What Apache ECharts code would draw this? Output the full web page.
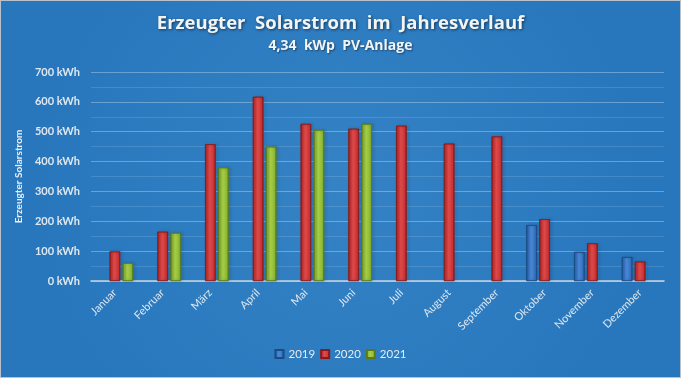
<!DOCTYPE html>
<html>
<head>
<meta charset="utf-8">
<script src="https://cdn.jsdelivr.net/npm/echarts@6/dist/echarts.min.js"></script>
<style>
html,body{margin:0;padding:0;background:#2a7abf;}
#chart{width:679px;height:376px;border:1px solid #b9c2cc;}
</style>
</head>
<body>
<div id="chart"></div>
<script>
const months = ['Januar','Februar','März','April','Mai','Juni','Juli','August','September','Oktober','November','Dezember'];
const seriesNames = ['2019','2020','2021'];
const v2019 = [null,null,null,null,null,null,null,null,null,187,97,80];
const v2020 = [99,165,458,617,526,510,520,460,484,207,126,65];
const v2021 = [60,161,380,450,506,526,null,null,null,null,null,null];
const yTicks = [0,100,200,300,400,500,600,700];

function grad(dark, mid, light){
  return {type:'linear',x:0,y:0,x2:1,y2:0,colorStops:[
    {offset:0,color:dark},{offset:0.15,color:mid},{offset:0.45,color:light},{offset:0.85,color:mid},{offset:1,color:dark}]};
}
const styles = [
  {c:grad('#1f4f8f','#3470bd','#4a88d6'), b:'#1b4a85', leg:'#3a74c2'},
  {c:grad('#8f1c1c','#c93232','#df4a4a'), b:'#8a1a1a', leg:'#cf3636'},
  {c:grad('#5d7f1c','#8cb532','#a6cf48'), b:'#5a7a1a', leg:'#96bf38'}
];
const data = [v2019, v2020, v2021];

const chart = echarts.init(document.getElementById('chart'), null, {renderer:'canvas'});
const series = data.map((d,i)=>({
  name: seriesNames[i],
  type:'bar',
  data:d,
  barWidth:10.5,
  barGap:'24%',
  itemStyle:{color:styles[i].c, borderColor:styles[i].b, borderWidth:0.6,
    shadowColor:'rgba(0,0,0,0.35)', shadowBlur:3, shadowOffsetX:1.5, shadowOffsetY:0}
}));

chart.setOption({
  backgroundColor:{type:'radial',x:0.5,y:0.5,r:0.8,colorStops:[{offset:0,color:'#3583c5'},{offset:1,color:'#2877bd'}]},
  color: styles.map(s=>s.leg),
  title:{
    text:'Erzeugter  Solarstrom  im  Jahresverlauf',
    subtext:'4,34  kWp  PV-Anlage',
    left:'center', top:8, itemGap:6,
    textStyle:{color:'#f2f4f6', fontSize:18.5, fontWeight:'bold', fontFamily:'Open Sans',
      textShadowColor:'rgba(0,0,0,0.55)', textShadowBlur:3, textShadowOffsetX:1, textShadowOffsetY:1.5},
    subtextStyle:{color:'#f2f4f6', fontSize:14, fontWeight:'bold', fontFamily:'Open Sans',
      textShadowColor:'rgba(0,0,0,0.45)', textShadowBlur:2, textShadowOffsetX:1, textShadowOffsetY:1}
  },
  legend:{
    data:seriesNames, bottom:12, left:'center', itemWidth:8, itemHeight:8, itemGap:5,
    icon:'rect',
    textStyle:{color:'#e6ecf2', fontSize:11.5, fontFamily:'Lato'}
  },
  grid:{left:90, right:16, top:71, bottom:96},
  xAxis:{
    type:'category', data:months,
    axisLine:{lineStyle:{color:'#c9d3de', width:1.5}},
    axisTick:{show:false},
    axisLabel:{rotate:45, color:'#dfe7ef', fontSize:11, fontFamily:'Lato', margin:10, interval:0}
  },
  yAxis:{
    type:'value', min:0, max:700, interval:50,
    name:'Erzeugter Solarstrom', nameLocation:'middle', nameGap:64, nameRotate:90,
    nameTextStyle:{color:'#e8eef4', fontSize:10, fontWeight:'bold', fontFamily:'Lato'},
    axisLine:{show:false}, axisTick:{show:false},
    axisLabel:{color:'#dfe7ef', fontSize:11, fontWeight:'bold', fontFamily:'Lato', margin:11,
      formatter:v=> yTicks.indexOf(v)>=0 ? v+' kWh' : ''},
    splitLine:{lineStyle:{color:['rgba(255,255,255,0.3)','rgba(255,255,255,0.13)'], width:1}}
  },
  series:series
});
</script>
</body>
</html>
